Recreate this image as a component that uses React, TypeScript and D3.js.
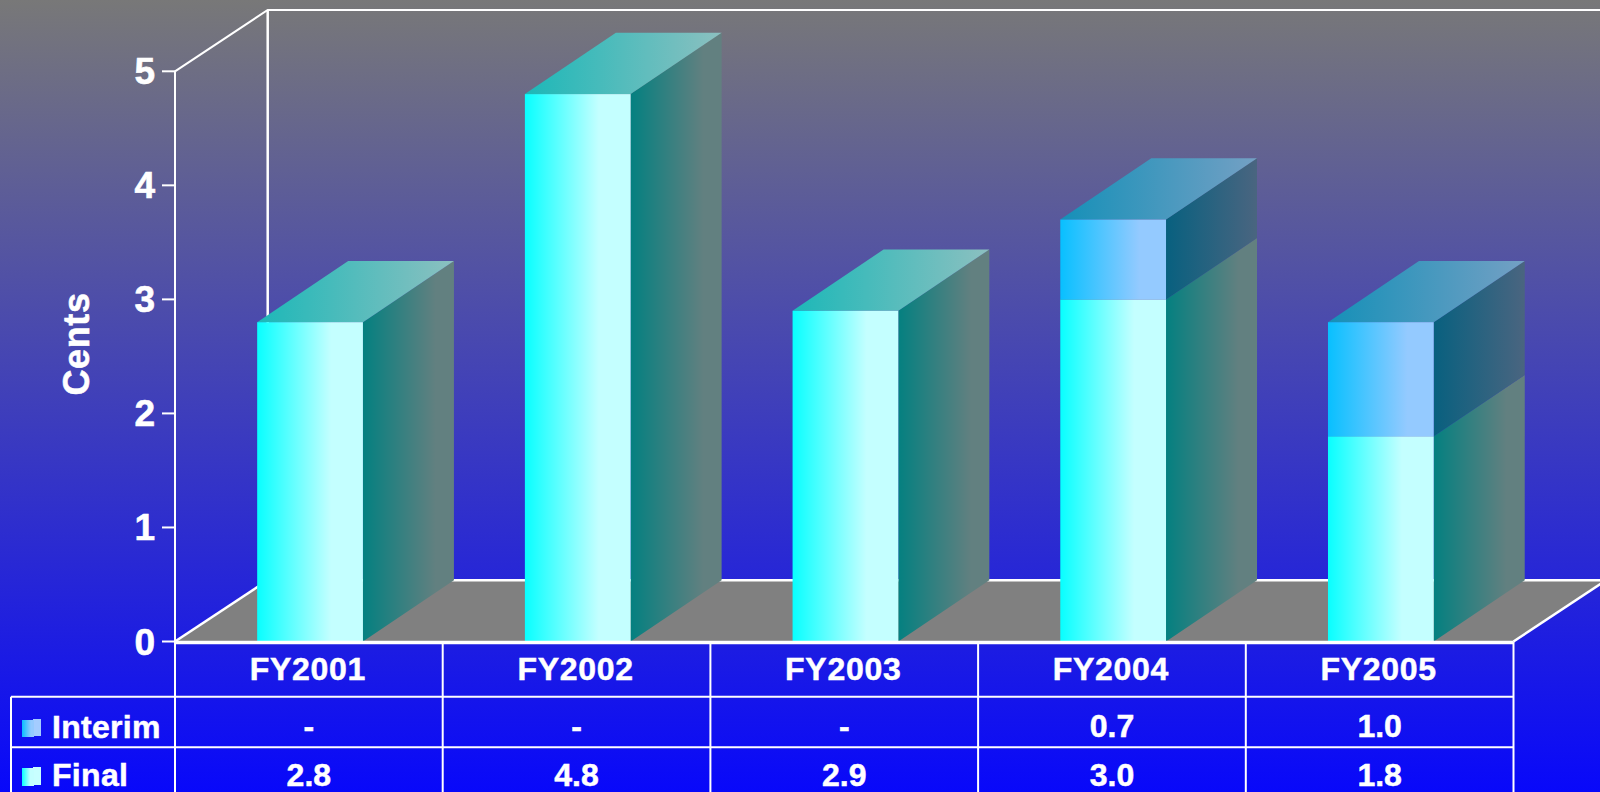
import React from 'react';
import * as d3 from 'd3';

// Values
const categories = ['FY2001', 'FY2002', 'FY2003', 'FY2004', 'FY2005'];
const finalValues = [2.8, 4.8, 2.9, 3.0, 1.8];
const interimValues: (number | null)[] = [null, null, null, 0.7, 1.0];
const yTicks = [0, 1, 2, 3, 4, 5];

const width = 1600;
const height = 792;
const left = 175;
const right = 1513.5;
const baseY = 641.5;
const topY = 71.3;
const depthX = 92.7;
const depthY = 61.3;
const barShift = 1.2;
const barDepthX = 91;
const rowLines = [696.7, 747.3];
const font = '"Liberation Sans", Arial, sans-serif';

const x = d3.scaleBand<string>().domain(categories).range([left, right]).paddingInner(0.605).paddingOuter(0.3025);
const y = d3.scaleLinear().domain([0, 5]).range([baseY, topY]);

const line = d3.line();
const poly = (pts: [number, number][]) => line(pts) + 'Z';

const App = () => {
  const bw = x.bandwidth();
  const columnEdges = categories.map(c => x(c)! + bw / 2 - x.step() / 2).concat(right);

  const renderSegment = (cat: string, from: number, to: number, kind: 'final' | 'interim', isTop: boolean) => {
    const x0 = x(cat)! + barShift;
    const x1 = x0 + bw;
    const y0 = y(from);
    const y1 = y(to);
    return (
      <g key={cat + kind}>
        <path
          d={poly([[x1, y0], [x1 + barDepthX, y0 - depthY], [x1 + barDepthX, y1 - depthY], [x1, y1]])}
          fill={`url(#${kind}Side)`}
        />
        {isTop && (
          <path
            d={poly([[x0, y1], [x0 + barDepthX, y1 - depthY], [x1 + barDepthX, y1 - depthY], [x1, y1]])}
            fill={`url(#${kind}Top)`}
          />
        )}
        <rect x={x0} y={y1} width={bw} height={y0 - y1} fill={`url(#${kind}Front)`} />
      </g>
    );
  };

  return (
    <svg
      width={width}
      height={height}
      viewBox={`0 0 ${width} ${height}`}
      style={{ position: 'absolute', left: 0, top: 0, display: 'block' }}
      fontFamily={font}
      fontWeight="bold"
      fill="#fff"
    >
      <defs>
        <linearGradient id="bg" x1="0" y1="0" x2="0" y2="1">
          <stop offset="0" stopColor="#787878" />
          <stop offset="1" stopColor="#0808fa" />
        </linearGradient>
        <linearGradient id="finalFront">
          <stop offset="0" stopColor="#08ffff" />
          <stop offset="0.7" stopColor="#c4ffff" />
          <stop offset="1" stopColor="#c4ffff" />
        </linearGradient>
        <linearGradient id="finalSide">
          <stop offset="0" stopColor="#048080" />
          <stop offset="0.8" stopColor="#628080" />
          <stop offset="1" stopColor="#628080" />
        </linearGradient>
        <linearGradient id="finalTop">
          <stop offset="0" stopColor="#1cb8b8" />
          <stop offset="1" stopColor="#8cc0c0" />
        </linearGradient>
        <linearGradient id="interimFront">
          <stop offset="0" stopColor="#08c0ff" />
          <stop offset="0.75" stopColor="#94caff" />
          <stop offset="1" stopColor="#94caff" />
        </linearGradient>
        <linearGradient id="interimSide">
          <stop offset="0" stopColor="#08607f" />
          <stop offset="1" stopColor="#4a6580" />
        </linearGradient>
        <linearGradient id="interimTop">
          <stop offset="0" stopColor="#1590b8" />
          <stop offset="1" stopColor="#74a0c4" />
        </linearGradient>
      </defs>

      <rect width={width} height={height} fill="url(#bg)" />

      {/* floor and walls */}
      <path
        d={poly([[left, baseY], [left + depthX, baseY - depthY], [right + depthX, baseY - depthY], [right, baseY]])}
        fill="#808080"
      />
      <g stroke="#fff" strokeWidth={2} fill="none">
        <path d={line([[left, topY], [left + depthX, topY - depthY], [width, topY - depthY]])!} />
        <path d={line([[left + depthX, topY - depthY], [left + depthX, baseY - depthY], [width, baseY - depthY]])!} strokeWidth={2.5} />
        <path d={line([[left, baseY], [left + depthX, baseY - depthY]])!} strokeWidth={2.5} />
        <path d={line([[right, baseY], [right + depthX, baseY - depthY]])!} strokeWidth={2.5} />
      </g>

      {/* bars */}
      {categories.map((c, i) => {
        const f = finalValues[i];
        const inter = interimValues[i];
        return (
          <g key={c}>
            {renderSegment(c, 0, f, 'final', inter === null)}
            {inter !== null && renderSegment(c, f, f + inter, 'interim', true)}
          </g>
        );
      })}

      {/* y axis */}
      <g stroke="#fff" strokeWidth={2}>
        <line x1={left} x2={left} y1={topY} y2={height} />
        {yTicks.map(t => (
          <line key={t} x1={left - 13} x2={left} y1={y(t)} y2={y(t)} />
        ))}
      </g>
      <g stroke="#fff" strokeWidth={0.6}>
        {yTicks.map(t => (
          <text key={t} x={155} y={y(t) + 13} textAnchor="end" fontSize={37}>
            {t}
          </text>
        ))}
        <text transform="translate(89,344) rotate(-90)" textAnchor="middle" fontSize={36} letterSpacing={0.6}>
          Cents
        </text>
      </g>

      {/* data table */}
      <g stroke="#fff" strokeWidth={2} fill="none">
        <line x1={left} x2={right} y1={baseY + 1} y2={baseY + 1} strokeWidth={3.5} />
        {rowLines.map(r => (
          <line key={r} x1={11} x2={right} y1={r} y2={r} />
        ))}
        <line x1={11} x2={11} y1={rowLines[0]} y2={height} />
        {columnEdges.map(e => (
          <line key={e} x1={e} x2={e} y1={baseY} y2={height} />
        ))}
      </g>
      <g fontSize={32} textAnchor="middle" stroke="#fff" strokeWidth={0.5}>
        {categories.map((c, i) => {
          const cx = columnEdges[i] + x.step() / 2;
          const inter = interimValues[i];
          return (
            <g key={c}>
              <text x={cx - 1} y={680} letterSpacing={0.7}>{c}</text>
              <text x={cx} y={737}>{inter === null ? '-' : inter.toFixed(1)}</text>
              <text x={cx} y={785.5}>{finalValues[i].toFixed(1)}</text>
            </g>
          );
        })}
      </g>

      {/* legend keys */}
      <rect x={33} y={719} width={8} height={17} fill="#a4ccff" />
      <rect x={22} y={720} width={12} height={17} fill="url(#interimFront)" />
      <text x={52} y={738} fontSize={32} letterSpacing={0.3} stroke="#fff" strokeWidth={0.5}>Interim</text>
      <rect x={33} y={767} width={8} height={18} fill="#c8ffff" />
      <rect x={22} y={768} width={12} height={18} fill="url(#finalFront)" />
      <text x={52} y={785.5} fontSize={32} letterSpacing={0.3} stroke="#fff" strokeWidth={0.5}>Final</text>
    </svg>
  );
};

export default App;
